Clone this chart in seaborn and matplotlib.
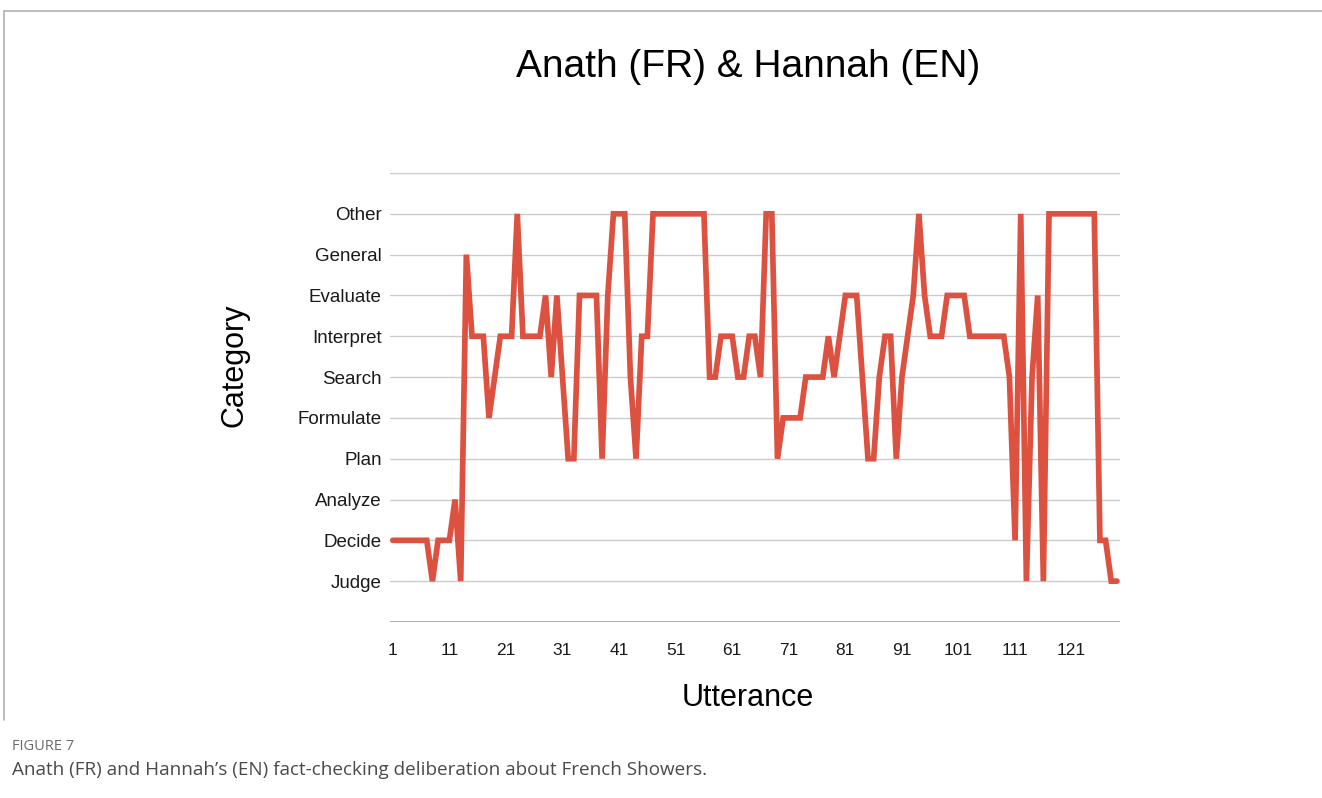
import pandas as pd
import matplotlib.pyplot as plt
import seaborn as sns
from matplotlib.lines import Line2D

# Category order, bottom to top
categories = ["Judge", "Decide", "Analyze", "Plan", "Formulate",
              "Search", "Interpret", "Evaluate", "General", "Other"]

# Category of each utterance 1..129
utterance_category = [
    "Decide", "Decide", "Decide", "Decide", "Decide", "Decide", "Decide", "Judge", "Decide", "Decide",
    "Decide", "Analyze", "Judge", "General", "Interpret", "Interpret", "Interpret", "Formulate", "Search", "Interpret",
    "Interpret", "Interpret", "Other", "Interpret", "Interpret", "Interpret", "Interpret", "Evaluate", "Search", "Evaluate",
    "Search", "Plan", "Plan", "Evaluate", "Evaluate", "Evaluate", "Evaluate", "Plan", "Evaluate", "Other",
    "Other", "Other", "Search", "Plan", "Interpret", "Interpret", "Other", "Other", "Other", "Other",
    "Other", "Other", "Other", "Other", "Other", "Other", "Search", "Search", "Interpret", "Interpret",
    "Interpret", "Search", "Search", "Interpret", "Interpret", "Search", "Other", "Other", "Plan", "Formulate",
    "Formulate", "Formulate", "Formulate", "Search", "Search", "Search", "Search", "Interpret", "Search", "Interpret",
    "Evaluate", "Evaluate", "Evaluate", "Search", "Plan", "Plan", "Search", "Interpret", "Interpret", "Plan",
    "Search", "Interpret", "Evaluate", "Other", "Evaluate", "Interpret", "Interpret", "Interpret", "Evaluate", "Evaluate",
    "Evaluate", "Evaluate", "Interpret", "Interpret", "Interpret", "Interpret", "Interpret", "Interpret", "Interpret", "Search",
    "Decide", "Other", "Judge", "Search", "Evaluate", "Judge", "Other", "Other", "Other", "Other",
    "Other", "Other", "Other", "Other", "Other", "Decide", "Decide", "Judge", "Judge",
]

x_ticks = [1, 11, 21, 31, 41, 51, 61, 71, 81, 91, 101, 111, 121]

df = pd.DataFrame({
    "Utterance": range(1, len(utterance_category) + 1),
    "Category": utterance_category,
})
df["Level"] = df["Category"].map({c: i for i, c in enumerate(categories)})

sns.set_style("white")
plt.rcParams["font.family"] = ["Liberation Sans", "DejaVu Sans"]
plt.rcParams["text.color"] = "black"
plt.rcParams["xtick.color"] = "#1a1a1a"
plt.rcParams["ytick.color"] = "#1a1a1a"

fig = plt.figure(figsize=(13.22, 7.98), dpi=100)
ax = fig.add_axes([0.295, 0.2206, 0.552, 0.5626])

# horizontal gridlines, one spare line above "Other"
for lvl in range(len(categories) + 1):
    ax.axhline(lvl, color="#cccccc", lw=1, zorder=0)
ax.axhline(-1, color="#9e9e9e", lw=1.2, zorder=0)

sns.lineplot(data=df, x="Utterance", y="Level", color="#dc5140",
             linewidth=4.1, ax=ax, solid_joinstyle="miter")

ax.set_xlim(0.5, 129.5)
ax.set_ylim(-1, 10)
ax.set_yticks(range(len(categories)))
ax.set_yticklabels(categories, fontsize=13.5)
ax.set_xticks(x_ticks)
ax.set_xticklabels([str(t) for t in x_ticks], fontsize=12.5)
ax.tick_params(axis="y", length=0, pad=6)
ax.tick_params(axis="x", length=0, pad=15)
for s in ax.spines.values():
    s.set_visible(False)
ax.set_xlabel("")
ax.set_ylabel("")

fig.text(0.5662, 1 - 67 / 798, "Anath (FR) & Hannah (EN)", fontsize=28,
         ha="center", va="center")
fig.text(235 / 1322, 1 - 365 / 798, "Category", fontsize=22, rotation=90,
         ha="center", va="center")
fig.text(748 / 1322, 1 - 698 / 798, "Utterance", fontsize=22,
         ha="center", va="center")

# frame around the chart image
fig.add_artist(Line2D([4 / 1322, 1.0], [1 - 11 / 798] * 2, color="#b0b0b0", lw=1.2))
fig.add_artist(Line2D([4 / 1322] * 2, [1 - 11 / 798, 1 - 720 / 798], color="#b0b0b0", lw=1.2))

fig.text(12 / 1322, 1 - 746 / 798, "FIGURE 7", fontsize=10.5, color="#6b6b6b",
         ha="left", va="center", family=["Open Sans", "DejaVu Sans"])
fig.text(12 / 1322, 1 - 770 / 798,
         "Anath (FR) and Hannah\u2019s (EN) fact-checking deliberation about French Showers.",
         fontsize=13.6, color="#4a4a4a", ha="left", va="center",
         family=["Open Sans", "DejaVu Sans"])

fig.savefig("out.png", dpi=100)
